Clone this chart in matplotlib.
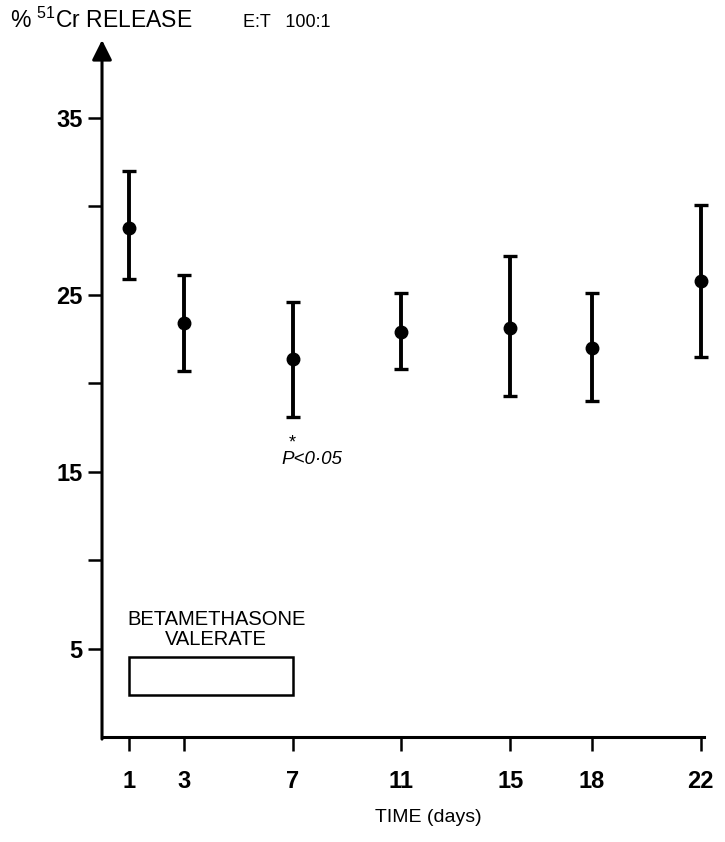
import matplotlib.pyplot as plt
from matplotlib.patches import Rectangle

plt.rcParams['font.family'] = ['Liberation Sans', 'DejaVu Sans']

# cytotoxicity over time, mean with upper/lower error limits
days = [1, 3, 7, 11, 15, 18, 22]
release = [28.8, 23.4, 21.35, 22.9, 23.1, 22.0, 25.8]
upper = [32.0, 26.1, 24.6, 25.1, 27.2, 25.1, 30.1]
lower = [25.9, 20.7, 18.1, 20.8, 19.3, 19.0, 21.5]

y_ticks = [5, 10, 15, 20, 25, 30, 35]
y_labels = ['5', '', '15', '', '25', '', '35']

# treatment period
treat_start, treat_end = 1, 7
treat_low, treat_high = 2.35, 4.55

err_low = [m - l for m, l in zip(release, lower)]
err_high = [u - m for m, u in zip(release, upper)]

fig = plt.figure(figsize=(7.25, 8.42), dpi=100)
ax = fig.add_axes([0.1407, 0.1247, 0.8304, 0.8278])

bars = ax.errorbar(days, release, yerr=[err_low, err_high], fmt='o', color='black',
                   ms=9, elinewidth=2.8, capsize=5, capthick=2.4)
for art in bars.lines[0:1] + tuple(bars.lines[1]) + tuple(bars.lines[2]):
    art.set_clip_on(False)

ax.add_patch(Rectangle((treat_start, treat_low), treat_end - treat_start,
                       treat_high - treat_low, fill=False, lw=1.8, ec='black'))
ax.text((treat_start + treat_end) / 2 + 0.2, treat_high + 0.45, 'BETAMETHASONE\nVALERATE',
        ha='center', va='bottom', fontsize=14.5, linespacing=1.05)

ax.text(7, 16.6, '*', ha='center', va='center', fontsize=13)
ax.text(6.6, 15.7, 'P<0·05', ha='left', va='center', fontsize=13.5, style='italic')

ax.set_xlim(0, 22.12)
ax.set_ylim(0, 39.4)
ax.set_xticks(days)
ax.set_xticklabels([str(d) for d in days])
ax.set_yticks(y_ticks)
ax.set_yticklabels(y_labels)

for side in ['top', 'right', 'left']:
    ax.spines[side].set_visible(False)
ax.spines['bottom'].set_linewidth(2.2)

# y axis drawn as an arrow
ax.annotate('', xy=(0, 1.0), xycoords='axes fraction', xytext=(0, -0.003),
            arrowprops=dict(arrowstyle='-|>', lw=2.2, color='black',
                            mutation_scale=30, shrinkA=0, shrinkB=0))

ax.tick_params(axis='both', direction='out', length=10, width=1.8,
               labelsize=17)
ax.tick_params(axis='x', pad=14)
ax.tick_params(axis='y', pad=4)
for lab in ax.get_xticklabels() + ax.get_yticklabels():
    lab.set_fontweight('bold')

fig.text(428 / 725, 1 - 817 / 842, 'TIME (days)', fontsize=14, ha='center', va='center')

fig.text(0.014, 1 - 28 / 842, r'% $\mathregular{^{51}}$Cr RELEASE', fontsize=16.5,
         va='baseline', ha='left')
fig.text(243 / 725, 1 - 27 / 842, 'E:T   100:1', fontsize=13, va='baseline', ha='left')

fig.savefig('out.png', dpi=100, facecolor='white')
